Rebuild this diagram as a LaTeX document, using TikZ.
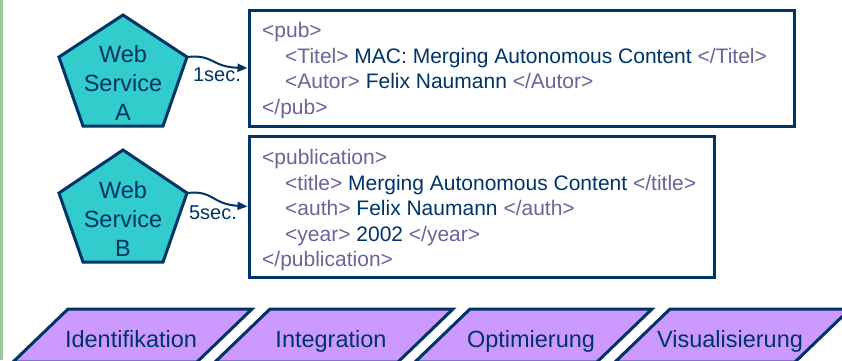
\documentclass[tikz,border=0pt]{standalone}
\usepackage{fontspec}
\setmainfont{Liberation Sans}
\usepackage{xcolor}
\usetikzlibrary{arrows.meta, positioning}
\definecolor{navy}{HTML}{003366}
\definecolor{tag}{HTML}{666699}
\definecolor{turq}{HTML}{33CCCC}
\definecolor{phasefill}{HTML}{CC99FF}
\definecolor{strip}{HTML}{99CC99}
\newcommand{\tg}[1]{\textcolor{tag}{#1}}

\begin{document}
\begin{tikzpicture}[x=1pt, y=-1pt, line join=miter,
  wsshape/.style={fill=turq, draw=navy, line width=3pt},
  wslabel/.style={text=navy, align=center, inner sep=0pt, font=\fontsize{23.5}{29}\selectfont},
  xmlbox/.style={draw=navy, line width=3pt, fill=white, anchor=north west, inner sep=0pt},
  xmltext/.style={text=navy, align=left, anchor=base west, inner sep=0pt, font=\fontsize{21}{25.5}\selectfont},
  flow/.style={navy, line width=2pt, -{Triangle[length=10pt, width=8pt]}},
  delay/.style={text=navy, inner sep=0pt, font=\fontsize{20}{24}\selectfont},
  phase/.style={fill=phasefill, draw=navy, line width=3pt},
  phaselabel/.style={text=navy, anchor=base, inner sep=0pt, font=\fontsize{23.5}{28}\selectfont}]
  \useasboundingbox (0,0) rectangle (842,360);
  \fill[strip] (0,0) rectangle (3,360);

  % web services
  \filldraw[wsshape] (123,15) -- (187,57) -- (163,126) -- (83,126) -- (59,57) -- cycle;
  \coordinate (wsAout) at (187,57);
  \node[wslabel] (wsA) at (123,82.5) {Web\\Service\\A};
  \filldraw[wsshape] (123,150) -- (187,193) -- (163,262) -- (83,262) -- (59,193) -- cycle;
  \coordinate (wsBout) at (187,193);
  \node[wslabel] (wsB) at (123,218.5) {Web\\Service\\B};

  % answers
  \node[xmlbox, minimum width=545pt, minimum height=116pt] (pubbox) at (247.5,8.5) {};
  \node[xmltext] (pubtext) at (262,114)
    {\tg{<pub>}\\
     \hspace*{23pt}\tg{<Titel>} MAC: Merging Autonomous Content \tg{</Titel>}\\
     \hspace*{23pt}\tg{<Autor>} Felix Naumann \tg{</Autor>}\\
     \tg{</pub>}};
  \node[xmlbox, minimum width=465pt, minimum height=141pt] (publbox) at (247.5,134.5) {};
  \node[xmltext] (publtext) at (262,266.5)
    {\tg{<publication>}\\
     \hspace*{23pt}\tg{<title>} Merging Autonomous Content \tg{</title>}\\
     \hspace*{23pt}\tg{<auth>} Felix Naumann \tg{</auth>}\\
     \hspace*{23pt}\tg{<year>} 2002 \tg{</year>}\\
     \tg{</publication>}};

  \draw[flow] (wsAout) .. controls (214,54) and (211,67) .. (pubbox.west);
  \node[delay] (delayA) at (217,75) {1sec.};
  \draw[flow] (wsBout) .. controls (214,190) and (211,204) .. (publbox.west);
  \node[delay] (delayB) at (213,212.5) {5sec.};

  % phases
  \filldraw[phase] (68,309) -- (252,309) -- (197,362) -- (13,362) -- cycle;
  \node[phaselabel] (ident) at (131,347) {Identifikation};
  \filldraw[phase] (270,309) -- (453,309) -- (398,362) -- (215,362) -- cycle;
  \node[phaselabel] (integ) at (331,347) {Integration};
  \filldraw[phase] (470,309) -- (652,309) -- (597,362) -- (415,362) -- cycle;
  \node[phaselabel] (optim) at (531,347) {Optimierung};
  \filldraw[phase] (670,309) -- (850,309) -- (795,362) -- (615,362) -- cycle;
  \node[phaselabel] (visual) at (730,347) {Visualisierung};
\end{tikzpicture}
\end{document}
